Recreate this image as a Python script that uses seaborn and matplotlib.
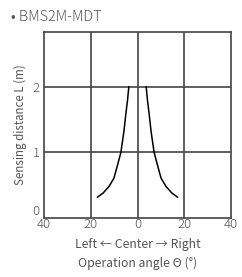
import matplotlib
matplotlib.use("Agg")
import matplotlib.pyplot as plt
import pandas as pd
import seaborn as sns

# 감지 거리 (m) 와 동작 각도 (°)
distance = [0.315, 0.38, 0.48, 0.605, 0.81, 1.0, 1.32, 1.58, 1.78, 2.0]
angle = [17.2, 14.7, 12.2, 10.1, 8.5, 7.1, 5.8, 5.0, 4.3, 3.7]

x_ticks = [-40, -20, 0, 20, 40]
x_labels = ["40", "20", "0", "20", "40"]
y_ticks = [0, 1, 2]

left = pd.DataFrame({"angle": [-a for a in angle], "distance": distance, "side": "left"})
right = pd.DataFrame({"angle": angle, "distance": distance, "side": "right"})
df = pd.concat([left, right], ignore_index=True)

sns.set_style("white")
plt.rcParams["font.family"] = ["Noto Sans CJK JP", "DejaVu Sans"]
plt.rcParams["font.weight"] = "light"

fig = plt.figure(figsize=(2.42, 2.77), dpi=100)
ax = fig.add_axes([44 / 242, 1 - 218 / 277, 187 / 242, 186 / 277])

sns.lineplot(data=df, x="angle", y="distance", units="side", estimator=None,
             sort=False, color="black", linewidth=1.1, ax=ax)

ax.set_xlim(-40, 40)
ax.set_ylim(0, 2.83)
ax.set_xticks(x_ticks)
ax.set_xticklabels(x_labels)
ax.set_yticks(y_ticks)
for v in x_ticks[1:-1]:
    ax.axvline(v, color="#444444", linewidth=1.2, zorder=0)
for v in y_ticks[1:]:
    ax.axhline(v, color="#444444", linewidth=1.2, zorder=0)
for s in ax.spines.values():
    s.set_color("#444444")
    s.set_linewidth(1.2)

ax.tick_params(length=0, labelsize=9.5, colors="#555555")
ax.tick_params(axis="x", pad=0)
ax.tick_params(axis="y", pad=3)
ax.get_yticklabels()[0].set_va("bottom")
ax.set_xlabel("Left ← Center → Right\nOperation angle Θ (°)", fontsize=8.8,
              color="#555555", linespacing=1.55, labelpad=5)
ax.set_ylabel("Sensing distance L (m)", fontsize=8.3, color="#555555", labelpad=4)

fig.text(11 / 242, 1 - 17 / 277, "• BMS2M-MDT", fontsize=10.5, color="#555555",
         va="center", ha="left")

fig.savefig("out.png", dpi=100)
